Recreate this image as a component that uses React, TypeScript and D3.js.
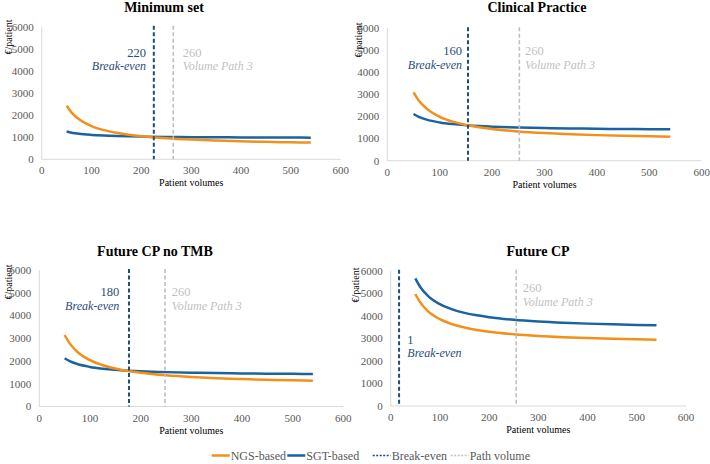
import React from "react";
import * as d3 from "d3";

const volumes = [50, 60, 75, 100, 125, 150, 175, 200, 250, 300, 350, 400, 450, 500, 540];

const titles = ["Minimum set", "Clinical Practice", "Future CP no TMB", "Future CP"];
const ngsMinimum = [2420, 2114, 1808, 1503, 1319, 1197, 1109, 1044, 952, 891, 847, 814, 789, 769, 755];
const sgtMinimum = [1255, 1205, 1154, 1104, 1073, 1053, 1039, 1028, 1013, 1003, 995, 990, 986, 982, 980];
const ngsClinical = [3100, 2730, 2361, 1991, 1769, 1621, 1516, 1437, 1326, 1252, 1199, 1159, 1128, 1104, 1087];
const sgtClinical = [2116, 1989, 1861, 1734, 1658, 1607, 1570, 1543, 1505, 1479, 1461, 1447, 1437, 1428, 1423];
const ngsFutureNoTmb = [3143, 2774, 2405, 2036, 1815, 1667, 1562, 1483, 1372, 1298, 1245, 1206, 1175, 1150, 1134];
const sgtFutureNoTmb = [2119, 1993, 1866, 1739, 1663, 1612, 1576, 1549, 1511, 1486, 1468, 1454, 1443, 1435, 1429];
const ngsFuture = [4967, 4595, 4222, 3850, 3627, 3478, 3371, 3292, 3180, 3105, 3052, 3012, 2981, 2956, 2940];
const sgtFuture = [5663, 5279, 4897, 4514, 4284, 4131, 4022, 3940, 3825, 3749, 3694, 3653, 3621, 3596, 3579];

const breakEvenLabels = ["220", "160", "180", "1"];
const breakEvenPositions = [225, 154, 177, 17];
const pathLabels = ["260", "260", "260", "260"];
const pathPositions = [264, 252, 248, 255];

const xTicks = [0, 100, 200, 300, 400, 500, 600];
const yTicks = [0, 1000, 2000, 3000, 4000, 5000, 6000];
const legendLabels = ["NGS-based", "SGT-based", "Break-even", "Path volume"];

const ngsSeries = [ngsMinimum, ngsClinical, ngsFutureNoTmb, ngsFuture];
const sgtSeries = [sgtMinimum, sgtClinical, sgtFutureNoTmb, sgtFuture];

// layout
const panels = [
  { x0: 41.7, x1: 340.7, yTop: 26.7, yBot: 159.3, titleX: 164, titleY: 12, yTitleX: 12, yTitleY: 37,
    beTextX: 146, beAnchor: "end", beNumY: 57, beWordY: 70, pTextX: 182.7, pNumY: 57, pWordY: 70 },
  { x0: 387.3, x1: 701.7, yTop: 28.3, yBot: 160.7, titleX: 537, titleY: 12, yTitleX: 362, yTitleY: 40,
    beTextX: 462, beAnchor: "end", beNumY: 55, beWordY: 69, pTextX: 525, pNumY: 55, pWordY: 69 },
  { x0: 39.3, x1: 343.3, yTop: 270, yBot: 406.5, titleX: 155, titleY: 256, yTitleX: 12, yTitleY: 282,
    beTextX: 119.3, beAnchor: "end", beNumY: 295.5, beWordY: 309.5, pTextX: 171.7, pNumY: 295.5, pWordY: 309.5 },
  { x0: 390.7, x1: 686, yTop: 270.7, yBot: 406, titleX: 538, titleY: 256, yTitleX: 359, yTitleY: 285,
    beTextX: 407.3, beAnchor: "start", beNumY: 343.5, beWordY: 357, pTextX: 522.7, pNumY: 291.5, pWordY: 306 },
];

const NGS = "#F39019";
const SGT = "#1B63A0";
const BE = "#1F4E79";
const PATH = "#BFBFBF";
const AXIS = "#D9D9D9";
const TXT = "#595959";
const FONT = "Liberation Serif, Tinos, Times New Roman, DejaVu Serif, serif";

function Panel({ i }: { i: number }) {
  const p = panels[i];
  const x = d3.scaleLinear().domain([0, 600]).range([p.x0, p.x1]);
  const y = d3.scaleLinear().domain([0, 6000]).range([p.yBot, p.yTop]);
  const line = d3
    .line<number>()
    .x((_, k) => x(volumes[k]))
    .y((d) => y(d))
    .curve(d3.curveMonotoneX);
  const be = x(breakEvenPositions[i]);
  const pv = x(pathPositions[i]);
  return (
    <g style={{ fontFamily: FONT }}>
      <text x={p.titleX} y={p.titleY} textAnchor="middle" fontWeight="bold" fontSize={14} fill="#000">
        {titles[i]}
      </text>
      <text
        transform={`translate(${p.yTitleX},${p.yTitleY}) rotate(-90)`}
        textAnchor="middle"
        fontSize={10}
        fill="#000"
      >
        €/patient
      </text>
      <line x1={p.x0} x2={p.x0} y1={p.yTop} y2={p.yBot} stroke={AXIS} strokeWidth={1} />
      <line x1={p.x0} x2={p.x1} y1={p.yBot} y2={p.yBot} stroke={AXIS} strokeWidth={1} />
      {yTicks.map((t) => (
        <text key={"y" + t} x={p.x0 - 8} y={y(t)} dy="0.35em" textAnchor="end" fontSize={11} fill={TXT}>
          {t}
        </text>
      ))}
      {xTicks.map((t) => (
        <text key={"x" + t} x={x(t)} y={p.yBot + 15} textAnchor="middle" fontSize={11} fill={TXT}>
          {t}
        </text>
      ))}
      <text x={(p.x0 + p.x1) / 2} y={p.yBot + 27} textAnchor="middle" fontSize={10} fill="#000">
        Patient volumes
      </text>
      <path d={line(sgtSeries[i]) || ""} fill="none" stroke={SGT} strokeWidth={2.5} />
      <path d={line(ngsSeries[i]) || ""} fill="none" stroke={NGS} strokeWidth={2.5} />
      <line x1={be} x2={be} y1={p.yTop - 1} y2={p.yBot} stroke={BE} strokeWidth={2} strokeDasharray="4,2.5" />
      <line x1={pv} x2={pv} y1={p.yTop - 1} y2={p.yBot} stroke={PATH} strokeWidth={1.6} strokeDasharray="4,2.5" />
      <text x={p.beTextX} y={p.beNumY} textAnchor={p.beAnchor as any} fontSize={12.5} fill={BE}>
        {breakEvenLabels[i]}
      </text>
      <text x={p.beTextX} y={p.beWordY} textAnchor={p.beAnchor as any} fontStyle="italic" fontSize={12} fill={BE}>
        Break-even
      </text>
      <text x={p.pTextX} y={p.pNumY} fontSize={12.5} fill={PATH}>
        {pathLabels[i]}
      </text>
      <text x={p.pTextX} y={p.pWordY} fontStyle="italic" fontSize={12} fill={PATH}>
        Volume Path 3
      </text>
    </g>
  );
}

const legendLayout = [
  { lx: 211.7, color: NGS, dash: "", w: 2.5 },
  { lx: 287.3, color: SGT, dash: "", w: 2.5 },
  { lx: 372.7, color: BE, dash: "2,1.5", w: 1.6 },
  { lx: 450.7, color: PATH, dash: "2,1.5", w: 1.6 },
];

export default function App() {
  const ly = 455.5;
  return (
    <svg width={710} height={464} style={{ position: "absolute", left: 0, top: 0, background: "#fff", fontFamily: FONT }}>
      <rect width={710} height={464} fill="#fff" />
      {panels.map((_, i) => (
        <Panel key={i} i={i} />
      ))}
      {legendLabels.map((l, k) => {
        const it = legendLayout[k];
        return (
          <g key={l}>
            <line x1={it.lx} x2={it.lx + 18} y1={ly} y2={ly} stroke={it.color} strokeWidth={it.w} strokeDasharray={it.dash} />
            <text x={it.lx + 19} y={ly} dy="0.35em" fontSize={12} fill={TXT}>
              {l}
            </text>
          </g>
        );
      })}
    </svg>
  );
}
